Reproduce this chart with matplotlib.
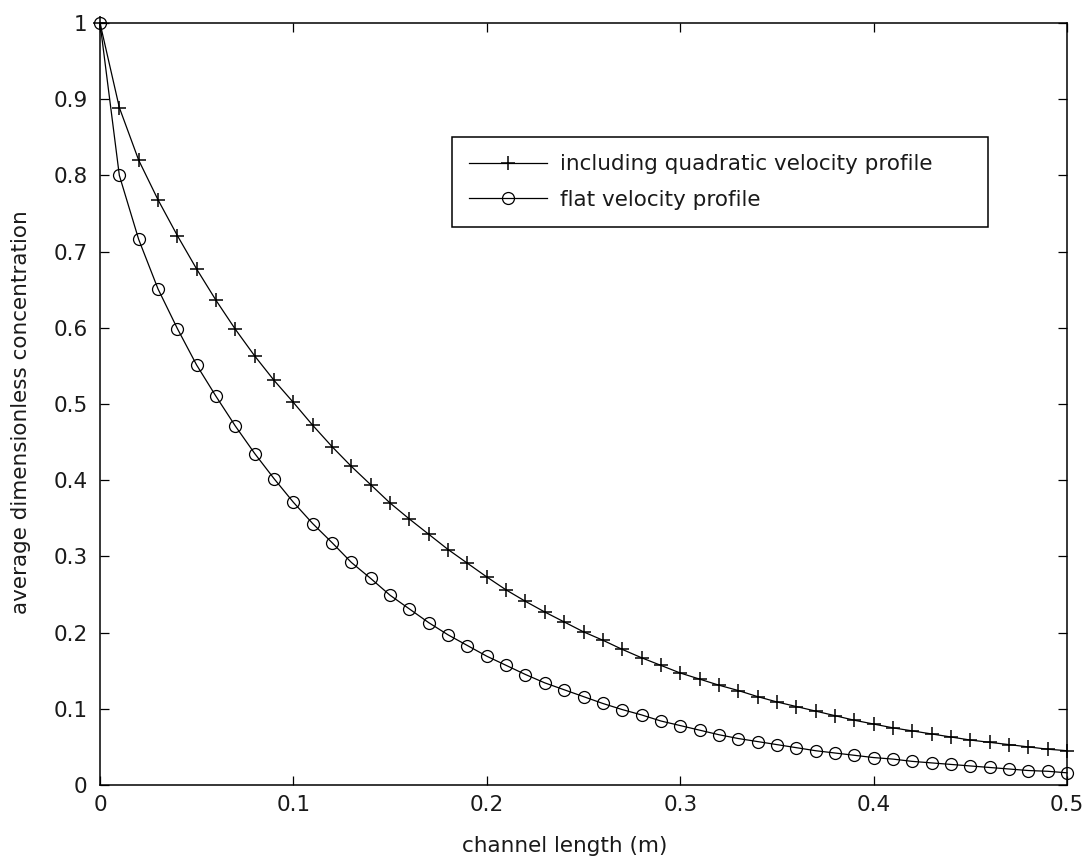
import matplotlib
matplotlib.use("Agg")
import matplotlib.pyplot as plt

# channel position (m)
x = [0.00, 0.01, 0.02, 0.03, 0.04, 0.05, 0.06, 0.07, 0.08, 0.09,
     0.10, 0.11, 0.12, 0.13, 0.14, 0.15, 0.16, 0.17, 0.18, 0.19,
     0.20, 0.21, 0.22, 0.23, 0.24, 0.25, 0.26, 0.27, 0.28, 0.29,
     0.30, 0.31, 0.32, 0.33, 0.34, 0.35, 0.36, 0.37, 0.38, 0.39,
     0.40, 0.41, 0.42, 0.43, 0.44, 0.45, 0.46, 0.47, 0.48, 0.49, 0.50]

# average dimensionless concentration, quadratic velocity profile included
c_quadratic = [1.000, 0.889, 0.820, 0.768, 0.721, 0.677, 0.636, 0.598, 0.563, 0.531,
               0.502, 0.472, 0.444, 0.418, 0.394, 0.370, 0.349, 0.329, 0.309, 0.291,
               0.273, 0.256, 0.241, 0.227, 0.214, 0.201, 0.190, 0.178, 0.167, 0.157,
               0.147, 0.139, 0.131, 0.124, 0.116, 0.109, 0.103, 0.097, 0.091, 0.085,
               0.080, 0.075, 0.071, 0.067, 0.063, 0.059, 0.056, 0.053, 0.050, 0.047, 0.045]

# average dimensionless concentration, flat velocity profile
c_flat = [1.000, 0.800, 0.716, 0.651, 0.599, 0.551, 0.510, 0.471, 0.435, 0.402,
          0.371, 0.343, 0.318, 0.292, 0.271, 0.249, 0.231, 0.213, 0.197, 0.183,
          0.169, 0.157, 0.145, 0.134, 0.125, 0.116, 0.107, 0.099, 0.092, 0.084,
          0.078, 0.072, 0.066, 0.061, 0.057, 0.053, 0.049, 0.045, 0.042, 0.039,
          0.036, 0.034, 0.031, 0.029, 0.027, 0.025, 0.023, 0.021, 0.019, 0.018, 0.016]

labels = ["including quadratic velocity profile", "flat velocity profile"]
x_ticks = [0, 0.1, 0.2, 0.3, 0.4, 0.5]
x_tick_labels = ["0", "0.1", "0.2", "0.3", "0.4", "0.5"]
y_ticks = [0, 0.1, 0.2, 0.3, 0.4, 0.5, 0.6, 0.7, 0.8, 0.9, 1]
y_tick_labels = ["0", "0.1", "0.2", "0.3", "0.4", "0.5", "0.6", "0.7", "0.8", "0.9", "1"]

plt.rcParams["font.family"] = ["DejaVu Sans"]
FS = 15.5
TXT = "#1a1a1a"

W, H = 1088, 867
fig = plt.figure(figsize=(W / 100, H / 100), dpi=100)
ax = fig.add_axes([100 / W, 82 / H, 967 / W, 762 / H])

ax.plot(x, c_quadratic, color="black", linewidth=0.9, marker="+",
        markersize=9.5, markeredgewidth=1.1, clip_on=False, label=labels[0])
ax.plot(x, c_flat, color="black", linewidth=0.9, marker="o",
        markersize=8.6, markerfacecolor="none", markeredgewidth=0.9,
        clip_on=False, label=labels[1])

ax.set_xlim(0, 0.5)
ax.set_ylim(0, 1)
ax.set_xticks(x_ticks)
ax.set_xticklabels(x_tick_labels)
ax.set_yticks(y_ticks)
ax.set_yticklabels(y_tick_labels)

ax.tick_params(axis="both", direction="in", top=True, right=True,
               length=6.5, width=0.9, labelsize=FS, color="black",
               labelcolor=TXT)
ax.tick_params(axis="x", pad=7)
ax.tick_params(axis="y", pad=9)
for sp in ax.spines.values():
    sp.set_linewidth(1.1)
    sp.set_color("black")

fig.text(565 / W, 1 - 846 / H, "channel length (m)", fontsize=FS,
         ha="center", va="center", color=TXT)
fig.text(21 / W, 1 - 412 / H, "average dimensionless concentration",
         fontsize=FS, ha="center", va="center", rotation=90, color=TXT)

# legend box spans 452..988 px horizontally, top edge at 137 px
leg = ax.legend(loc="upper left",
                bbox_to_anchor=(452 / W, 1 - 226 / H, 536 / W, 89 / H),
                bbox_transform=fig.transFigure, borderaxespad=0, mode="expand",
                fontsize=FS, numpoints=1, handlelength=3.6,
                handletextpad=0.6, borderpad=0.8, labelspacing=0.72,
                fancybox=False, framealpha=1, edgecolor="black")
leg.get_frame().set_linewidth(1.1)
for t in leg.get_texts():
    t.set_color(TXT)

fig.savefig("out.png", dpi=100, facecolor="white")
